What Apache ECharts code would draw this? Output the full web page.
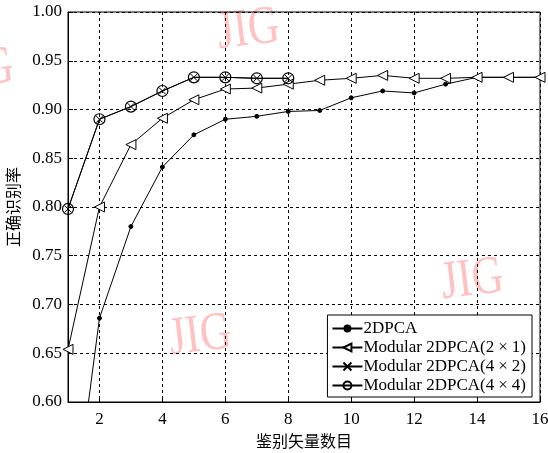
<!DOCTYPE html>
<html>
<head>
<meta charset="utf-8">
<script src="https://cdn.jsdelivr.net/npm/echarts@6/dist/echarts.min.js"></script>
<style>
  html, body { margin: 0; padding: 0; background: #fff; }
  #main { width: 548px; height: 453px; }
</style>
</head>
<body>
<div id="main"></div>
<script>
// dimensions on the x axis
var dims = [1, 2, 3, 4, 5, 6, 7, 8, 9, 10, 11, 12, 13, 14, 15, 16];
var dimsShort = [1, 2, 3, 4, 5, 6, 7, 8];

// recognition rates
var rate2dpca = [0.44, 0.686, 0.780, 0.841, 0.874, 0.890, 0.893, 0.898, 0.899, 0.912, 0.919, 0.917, 0.926, 0.933, 0.933, 0.933];
var rate2x1 = [0.654, 0.800, 0.864, 0.891, 0.910, 0.921, 0.922, 0.926, 0.930, 0.932, 0.935, 0.932, 0.932, 0.933, 0.933, 0.933];
var rate4x2 = [0.798, 0.890, 0.903, 0.919, 0.933, 0.933, 0.932, 0.932];
var rate4x4 = [0.798, 0.890, 0.903, 0.919, 0.933, 0.933, 0.932, 0.932];

var names = ['2DPCA', 'Modular 2DPCA(2×1)', 'Modular 2DPCA(4×2)', 'Modular 2DPCA(4×4)'];

function pairs(xs, ys) {
  return xs.map(function (x, i) { return [x, ys[i]]; });
}

var serif = 'Liberation Serif';
var lineCommon = {
  type: 'line',
  lineStyle: { color: '#000', width: 1, type: 'solid' },
  itemStyle: { color: '#fff', borderColor: '#000', borderWidth: 1 },
  emphasis: { disabled: true },
  animation: false
};

// faint "JIG" watermarks of the source figure
var wm = function (x, y) {
  return {
    type: 'text', left: x, top: y, rotation: 0.12, scaleX: 0.8, z: -1,
    style: { text: 'JIG', font: '54px "Liberation Serif"', fill: '#ffc2c2' }
  };
};

var chart = echarts.init(document.getElementById('main'));
chart.setOption({
  animation: false,
  grid: {
    left: 68, right: 8, top: 12, bottom: 51,
    outerBoundsMode: 'none',
    show: true, borderColor: '#000', borderWidth: 1
  },
  graphic: [wm(214, 0), wm(-52, 40), wm(166, 306), wm(438, 250)],
  legend: {
    orient: 'vertical',
    right: 16,
    bottom: 56,
    backgroundColor: '#fff',
    borderColor: '#000',
    borderWidth: 1,
    padding: [5, 6, 3, 4],
    itemGap: 2,
    itemWidth: 30,
    itemHeight: 10,
    formatter: function (n) { return n.replace('×', '{m|×}'); },
    textStyle: {
      fontFamily: serif, fontSize: 17, color: '#000', padding: [0, 0, 0, -4],
      rich: { m: { fontFamily: serif, fontSize: 17, color: '#000', padding: [0, 4, 0, 4] } }
    },
    data: names
  },
  xAxis: {
    type: 'value',
    min: 1,
    max: 16,
    splitNumber: 8,
    name: '鉴别矢量数目',
    nameLocation: 'middle',
    nameGap: 30,
    nameTextStyle: { fontFamily: 'Noto Sans CJK SC', fontSize: 16, color: '#000' },
    axisLine: { lineStyle: { color: '#000' } },
    axisTick: { inside: true, length: 5, lineStyle: { color: '#000' } },
    axisLabel: { showMinLabel: false, fontFamily: serif, fontSize: 17, color: '#000', margin: 9 },
    splitLine: { show: true, lineStyle: { color: '#000', type: [3, 3], width: 1 } }
  },
  yAxis: {
    type: 'value',
    min: 0.6,
    max: 1.0,
    interval: 0.05,
    name: '正确识别率',
    nameLocation: 'middle',
    nameGap: 46,
    nameTextStyle: { fontFamily: 'Noto Sans CJK SC', fontSize: 16, color: '#000' },
    axisLine: { show: true, lineStyle: { color: '#000' } },
    axisTick: { show: true, inside: true, length: 5, lineStyle: { color: '#000' } },
    axisLabel: {
      fontFamily: serif, fontSize: 17, color: '#000', margin: 6,
      formatter: function (v) { return v.toFixed(2); }
    },
    splitLine: { show: true, lineStyle: { color: '#000', type: [3, 3], width: 1 } }
  },
  series: [
    Object.assign({}, lineCommon, {
      name: names[0], data: pairs(dims, rate2dpca),
      symbol: 'circle', symbolSize: 4,
      itemStyle: { color: '#000', borderColor: '#000' }
    }),
    Object.assign({}, lineCommon, {
      name: names[1], data: pairs(dims, rate2x1),
      symbol: 'triangle', symbolSize: 10, symbolRotate: 90
    }),
    Object.assign({}, lineCommon, {
      name: names[2], data: pairs(dimsShort, rate4x2),
      symbol: 'path://M0,0L10,10M10,0L0,10', symbolSize: 7,
      itemStyle: { color: '#000', borderColor: '#000', borderWidth: 1 }
    }),
    Object.assign({}, lineCommon, {
      name: names[3], data: pairs(dimsShort, rate4x4),
      symbol: 'circle', symbolSize: 11,
      itemStyle: { color: 'rgba(255,255,255,0)', borderColor: '#000', borderWidth: 1.2 }
    })
  ]
});
</script>
</body>
</html>
